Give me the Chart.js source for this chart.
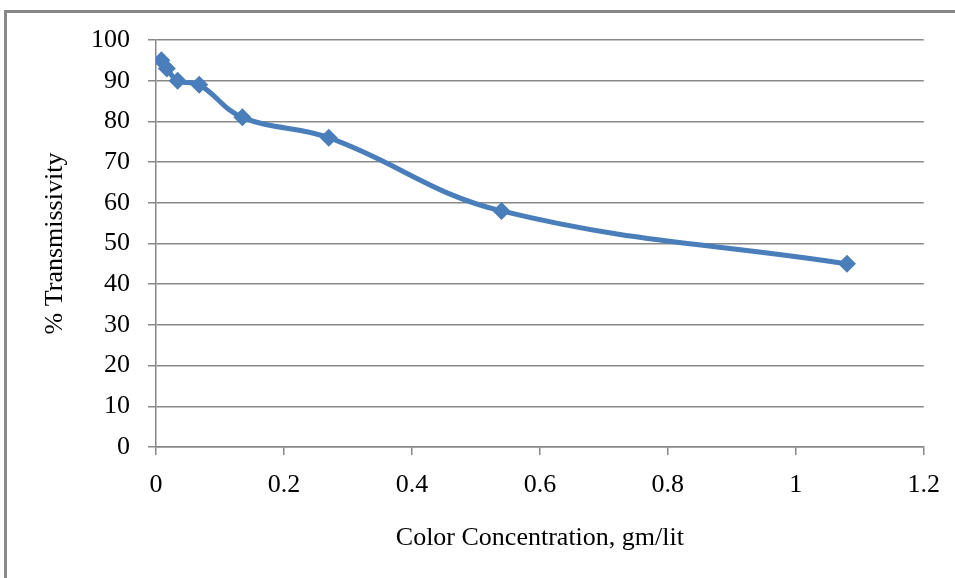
<!DOCTYPE html>
<html>
<head>
<meta charset="utf-8">
<script src="https://cdn.jsdelivr.net/npm/chart.js@4/dist/chart.umd.min.js"></script>
<style>
    body { margin: 0; background: #fff; }
    .wrap { position: relative; width: 955px; height: 578px; overflow: hidden; }
    .frame {
        position: absolute; left: 4px; top: 10px; width: 1000px; height: 600px;
        border-top: 3px solid #888; border-left: 3px solid #888; pointer-events: none;
    }
    canvas { position: absolute; left: 0; top: 0; }
</style>
</head>
<body>
<div class="wrap">
    <canvas id="chart" width="955" height="578"></canvas>
    <div class="frame"></div>
</div>
<script>
// concentration (gm/lit) and % transmissivity
const concentration = [0.0084, 0.0169, 0.0338, 0.0675, 0.135, 0.27, 0.54, 1.08];
const transmissivity = [95, 93, 90, 89, 81, 76, 58, 45];

const xTicks = [0, 0.2, 0.4, 0.6, 0.8, 1, 1.2];
const xTickLabels = ['0', '0.2', '0.4', '0.6', '0.8', '1', '1.2'];
const yTicks = [0, 10, 20, 30, 40, 50, 60, 70, 80, 90, 100];

const serif = { family: '"Liberation Serif", "Times New Roman", serif', size: 26 };

const ctx = document.getElementById('chart').getContext('2d');
const chart = new Chart(ctx, {
    type: 'scatter',
    data: {
        datasets: [{
            data: concentration.map((c, i) => ({ x: c, y: transmissivity[i] })),
            showLine: true,
            tension: 0.4,
            borderColor: '#4a7ebb',
            backgroundColor: '#4a7ebb',
            borderWidth: 5,
            pointStyle: 'rectRot',
            pointRadius: 9,
            pointBorderWidth: 0
        }]
    },
    options: {
        responsive: false,
        animation: false,
        layout: { padding: { left: 40, top: 40, right: 31, bottom: 0 } },
        plugins: { legend: { display: false }, tooltip: { enabled: false } },
        scales: {
            x: {
                type: 'linear',
                min: 0,
                max: 1.2,
                afterBuildTicks: scale => { scale.ticks = xTicks.map(v => ({ value: v })); },
                afterFit: scale => { scale.height = 131; },
                ticks: {
                    color: '#000',
                    font: serif,
                    padding: 15,
                    maxRotation: 0,
                    callback: (v, i) => xTickLabels[i]
                },
                grid: { drawOnChartArea: false, tickLength: 8, color: '#888', lineWidth: 1.5 },
                border: { color: '#888', width: 1.5 },
                title: {
                    display: true,
                    text: 'Color Concentration, gm/lit',
                    color: '#000',
                    font: serif,
                    padding: { top: 0, bottom: 24 }
                }
            },
            y: {
                min: 0,
                max: 100,
                afterBuildTicks: scale => { scale.ticks = yTicks.map(v => ({ value: v })); },
                afterFit: scale => { scale.width = 116; },
                ticks: { color: '#000', font: serif, padding: 18 },
                grid: { tickLength: 8, color: '#888', lineWidth: 1.5 },
                border: { color: '#888', width: 1.5 },
                title: {
                    display: true,
                    text: '% Transmissivity',
                    color: '#000',
                    font: serif,
                    padding: 0
                }
            }
        }
    }
});
</script>
</body>
</html>
